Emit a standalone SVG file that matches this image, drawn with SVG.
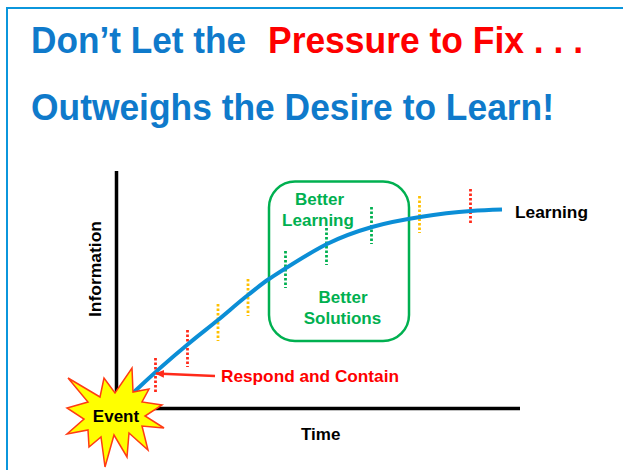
<svg xmlns="http://www.w3.org/2000/svg" width="623" height="470" viewBox="0 0 623 470">
<style>
text{font-family:"Liberation Sans",Arial,sans-serif;font-weight:bold}
.title{font-size:36px;fill:#0f7acb}
.lbl{font-size:17px;fill:#000}
.grn{font-size:17px;fill:#00b050;text-anchor:middle}
.red{fill:#fe0000}
.axis{stroke:#000;stroke-width:3.5;fill:none}
.tick{stroke-width:2.8;stroke-dasharray:2.5 2;fill:none}
.r{stroke:#ff2a1a}.y{stroke:#ffc000}.g{stroke:#00b050}
</style>
<defs>
<marker id="ah" markerWidth="9" markerHeight="8" refX="8" refY="4" orient="auto" markerUnits="userSpaceOnUse"><path d="M0 0L9 4L0 8Z" fill="#ff2a1a"/></marker>
</defs>
<rect width="623" height="470" fill="#fff"/>
<path d="M7 470V8H623" fill="none" stroke="#0b96dc" stroke-width="2"/>
<g id="title">
<text class="title" x="31" y="53" textLength="215" lengthAdjust="spacingAndGlyphs">Don’t Let the</text>
<text class="title red" x="268" y="53" textLength="315" lengthAdjust="spacingAndGlyphs">Pressure to Fix . . .</text>
<text class="title" x="31" y="120" textLength="523" lengthAdjust="spacingAndGlyphs">Outweighs the Desire to Learn!</text>
</g>
<g id="better-box">
<rect x="269" y="181.500" width="140" height="159.500" rx="26" fill="none" stroke="#00b050" stroke-width="2.500"/>
<text class="grn" x="319.500" y="205">Better</text>
<text class="grn" x="318" y="226">Learning</text>
<text class="grn" x="343" y="303">Better</text>
<text class="grn" x="342.500" y="324">Solutions</text>
</g>
<g id="axes">
<path class="axis" d="M116.500 171V395M140 408.500H520"/>
<text class="lbl" transform="translate(101 317) rotate(-90)" textLength="96" lengthAdjust="spacingAndGlyphs">Information</text>
<text class="lbl" x="301" y="440">Time</text>
</g>
<g id="ticks">
<path class="tick r" d="M155.500 358V393M187.500 330V367M470.500 189V225"/>
<path class="tick y" d="M218 304V341M248 279V316M419.500 196V233"/>
<path class="tick g" d="M285.500 251V288M326.500 228V265M371.500 207V244"/>
</g>
<g id="connectors">
<path id="curve" d="M134 392C152 375 170 359 187 345C197 336.400 208 328.200 218 320C228 311.800 238 302.800 248 295C255 289.500 262 283.600 269 279C288 266.700 308 253.500 327 244C342 236.500 357 231.300 372 227C388 222.400 403 219.700 420 217C437 214.300 454 212.200 471 211C482 210.200 490 209.900 502 209.500" fill="none" stroke="#0b8ed6" stroke-width="4"/>
<path id="respond-arrow" d="M215 376L156 373.500" fill="none" stroke="#ff2a1a" stroke-width="2.500" marker-end="url(#ah)"/>
</g>
<g id="labels">
<text class="lbl red" x="221" y="382" textLength="178" lengthAdjust="spacingAndGlyphs">Respond and Contain</text>
<text class="lbl" x="515" y="218" textLength="73" lengthAdjust="spacingAndGlyphs">Learning</text>
</g>
<g id="event">
<path d="M68 378L100 397L104 378L115 393L132 368L133 392L149 389L142 402L162 405L145 416L164 428L142 426L148 450L129 433L127 457L114 435L105 467L101 437L89 447L88 430L67 434L84 419L67 408L88 402Z" fill="#ffff00" stroke="#ff3b14" stroke-width="1.500"/>
<text x="116" y="422" font-size="17" text-anchor="middle">Event</text>
</g>
</svg>
